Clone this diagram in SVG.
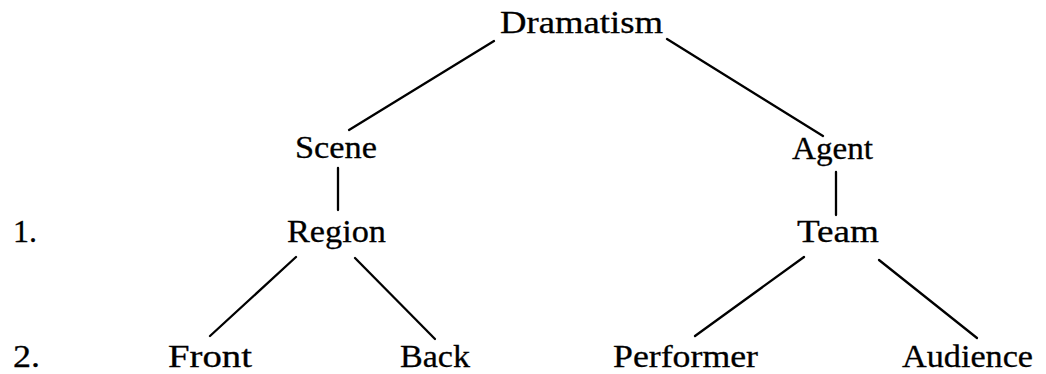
<svg xmlns="http://www.w3.org/2000/svg" width="1046" height="374" viewBox="0 0 1046 374">
<style>
text{font-family:"Liberation Serif","Times New Roman",serif;font-size:32px;fill:#000;stroke:#000;stroke-width:0.3}
.c line{stroke:#000;stroke-width:2.3;stroke-linecap:round}
</style>
<rect width="1046" height="374" fill="#fff"/>
<g class="c" id="connectors">
<line x1="494" y1="41" x2="349" y2="130"/>
<line x1="667" y1="39" x2="823" y2="136"/>
<line x1="338" y1="168" x2="338" y2="210"/>
<line x1="836" y1="172" x2="836" y2="215"/>
<line x1="296" y1="257" x2="210" y2="336"/>
<line x1="355" y1="258" x2="435" y2="339"/>
<line x1="804" y1="257" x2="695" y2="336"/>
<line x1="879" y1="260" x2="977" y2="338"/>
</g>
<g id="dramatism"><text x="500" y="33" textLength="163" lengthAdjust="spacingAndGlyphs">Dramatism</text></g>
<g id="scene"><text x="295" y="158" textLength="82" lengthAdjust="spacingAndGlyphs">Scene</text></g>
<g id="agent"><text x="792" y="159" textLength="81" lengthAdjust="spacingAndGlyphs">Agent</text></g>
<g id="region"><text x="287" y="242" textLength="99" lengthAdjust="spacingAndGlyphs">Region</text></g>
<g id="team"><text x="797" y="242" textLength="82" lengthAdjust="spacingAndGlyphs">Team</text></g>
<g id="front"><text x="168" y="367" textLength="84" lengthAdjust="spacingAndGlyphs">Front</text></g>
<g id="back"><text x="400" y="367" textLength="70" lengthAdjust="spacingAndGlyphs">Back</text></g>
<g id="performer"><text x="613" y="367" textLength="145" lengthAdjust="spacingAndGlyphs">Performer</text></g>
<g id="audience"><text x="902" y="367" textLength="131" lengthAdjust="spacingAndGlyphs">Audience</text></g>
<g id="level1"><text x="13" y="242" textLength="24" lengthAdjust="spacingAndGlyphs">1.</text></g>
<g id="level2"><text x="13" y="367" textLength="27" lengthAdjust="spacingAndGlyphs">2.</text></g>
</svg>
